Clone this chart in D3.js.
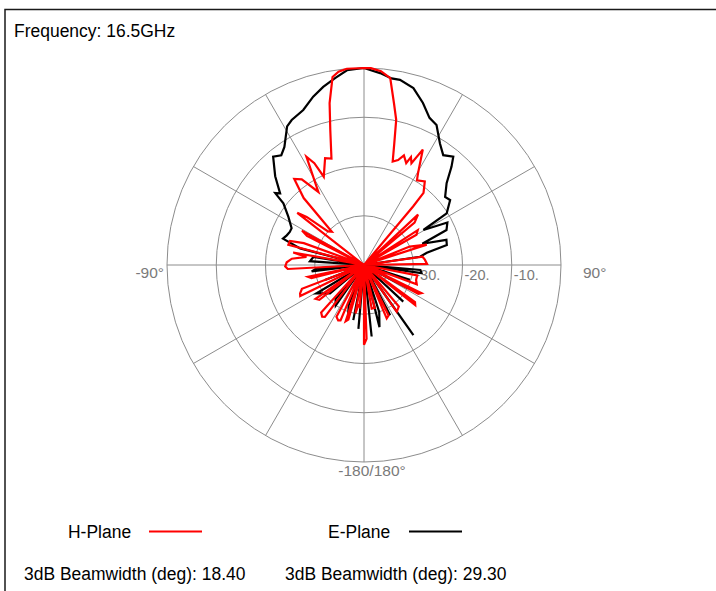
<!DOCTYPE html>
<html>
<head>
<meta charset="utf-8">
<script src="https://cdn.jsdelivr.net/npm/d3@7"></script>
<style>
  html, body { margin: 0; padding: 0; background: #fff; }
  svg { display: block; font-family: "Liberation Sans", Arial, sans-serif; }
</style>
</head>
<body>
<svg id="chart" width="716" height="591"></svg>
<script>
// Radiation pattern, 16.5 GHz. Angles in degrees (0 = boresight, clockwise), levels in dB.
const frequencyLabel = "Frequency: 16.5GHz";

const dbTicks = [-40, -30, -20, -10, 0];
const dbTickLabels = ["-40.", "-30.", "-20.", "-10."];
const spokeAngles = [0, 30, 60, 90, 120, 150, 180, 210, 240, 270, 300, 330];
const angleLabels = ["-90°", "90°", "-180/180°"];

// H-Plane (red)
const hPlaneDeg = [
  -180, -177, -174, -172, -170, -167, -164, -162, -160, -157, -155, -152, -148, -143, -141,
  -138, -133, -128, -125, -120, -116, -114, -111, -107, -104, -102, -99, -93, -91, -88, -85,
  -82, -80, -77, -75, -72, -70, -66, -63, -61, -57, -52, -50, -47, -44, -42, -39, -36, -32,
  -28, -26, -24.5, -20, -17, -14, -12, -9.5, -7.5, -5, 0, 2, 5, 8, 10.5, 12.5, 14, 15.5, 18,
  20, 22.5, 23.5, 25, 27, 30.5, 32, 36, 39.5, 40, 43, 47, 50, 54, 57, 60, 64, 68, 72, 76, 82,
  85, 89, 93, 99, 101, 106, 110, 114, 116, 118, 120, 126, 128, 131, 136, 140, 145, 150, 154,
  157, 160, 166, 170, 175, 178
];
const hPlaneDb = [
  -23.8, -40, -31.5, -31.8, -30, -40, -28.5, -28, -40, -27.8, -27.6, -28.1, -40, -26.8, -26.5,
  -27, -40, -28.5, -28, -40, -25.6, -25.8, -26.5, -40, -29, -28.4, -40, -24.5, -24, -24.3, -25.3,
  -28.2, -25.4, -40, -24.1, -24.2, -27, -40, -27, -25.6, -40, -22.8, -24.8, -30, -30.6, -21.7, -17.5, -18.5, -22.5,
  -15.1, -17, -20.3, -16.9, -17.4, -11.7, -6.4, -1.3, -0.4, 0, 0, 0, -0.5, -1.7, -6.6, -9.8, -14.6, -18.2, -17.6,
  -16.3, -17.6, -16.1, -17.2, -13.7, -18.4, -19.7, -19, -21, -24.5, -40, -25, -26.6, -40, -27, -27.7, -40, -30, -26.6, -40, -28,
  -27.6, -27.2, -40, -40, -29, -29, -28.6, -40, -27, -27.5, -40, -27.2, -26.8, -40, -40, -29, -28.4, -40, -28.6,
  -28.2, -40, -31, -31, -40, -25
];

// E-Plane (black)
const ePlaneDeg = [
  -180, -175, -172, -169, -166, -163, -159, -150, -145, -140, -134, -130, -125, -121, -116,
  -111, -104, -97, -94, -90, -86, -81, -78, -75.4, -72, -69, -66, -63, -57.5, -52.6, -51,
  -49.5, -45, -40, -37, -34, -29, -26.5, -21.4, -16.8, -12.9, -8.8, -5, 0, 4.8, 8.4, 11,
  15.6, 20, 24, 27.4, 32, 35.8, 39.5, 41.7, 45.3, 50, 53, 58, 59.5, 63, 67, 70, 73, 76.4,
  79, 81.6, 85, 92, 95, 98, 102, 108, 112, 118, 124, 133, 138, 144.8, 148, 152.5, 158, 162,
  166, 170, 173.9, 177
];
const ePlaneDb = [
  -40, -27, -40, -28.6, -40, -29, -31.3, -40, -30, -31, -40, -31, -30, -28.8, -40,
  -31.5, -40, -29.3, -30.4, -40, -29, -29.6, -40, -26.6, -22.7, -23.2, -23.5, -23.5, -21.8, -19.4, -16.8,
  -17.6, -14.5, -11.3, -12.1, -11.1, -7.8, -7.1, -6.2, -4.3, -2.9, -1.6, -0.3, 0, -0.9, -1.7, -1.7,
  -2.7, -5, -7.3, -8, -10.9, -12.5, -11.5, -13.3, -16.4, -18.5, -18.1, -20.2, -26, -21, -21.8, -27.4, -22.5, -22.7,
  -27, -28.5, -40, -40, -28.5, -28.2, -40, -30.2, -40, -30, -40, -29.1, -40, -22.6, -40, -28.5, -40, -30,
  -27, -40, -25.4, -40
];

const legendNames = ["H-Plane", "E-Plane"];
const legendColors = ["#ff0000", "#000000"];
const beamwidthLabels = ["3dB Beamwidth (deg): 18.40", "3dB Beamwidth (deg): 29.30"];

const svg = d3.select("#chart");
const cx = 364, cy = 265, R = 197;
const gridColor = "#8c8c8c";
const labelColor = "#7a7a7a";

// Black text is set slightly condensed
function blackText(x, y, str) {
  return svg.append("text")
    .attr("transform", `translate(${x},${y}) scale(0.92,1)`)
    .attr("font-size", 19).attr("fill", "#000")
    .text(str);
}

// Frame
svg.append("path")
  .attr("d", "M5,591 V9.5 H716")
  .attr("fill", "none")
  .attr("stroke", "#1a1a1a")
  .attr("stroke-width", 1.5);

blackText(14, 37, frequencyLabel);

const r = d3.scaleLinear().domain([-40, 0]).range([0, R]).clamp(true);
const toRad = d => d * Math.PI / 180;

const g = svg.append("g").attr("transform", `translate(${cx},${cy})`);

// Rings
g.selectAll("circle.ring")
  .data(dbTicks.filter(d => d > -40))
  .join("circle")
  .attr("class", "ring")
  .attr("r", d => r(d))
  .attr("fill", "none")
  .attr("stroke", gridColor)
  .attr("stroke-width", 1);

// Spokes
g.selectAll("line.spoke")
  .data(spokeAngles)
  .join("line")
  .attr("class", "spoke")
  .attr("x1", 0).attr("y1", 0)
  .attr("x2", a => R * Math.sin(toRad(a)))
  .attr("y2", a => -R * Math.cos(toRad(a)))
  .attr("stroke", gridColor)
  .attr("stroke-width", 1);

// Radial level labels along the 90° spoke
g.selectAll("text.dbLabel")
  .data(dbTicks.slice(0, 4))
  .join("text")
  .attr("class", "dbLabel")
  .attr("x", d => r(d) + 2)
  .attr("y", 15)
  .attr("font-size", 14.5)
  .attr("fill", labelColor)
  .text((d, i) => dbTickLabels[i]);

// Angle labels
g.append("text").attr("x", -R - 3).attr("y", 13).attr("text-anchor", "end")
  .attr("font-size", 15.5).attr("fill", labelColor).text(angleLabels[0]);
g.append("text").attr("x", R + 22).attr("y", 13).attr("text-anchor", "start")
  .attr("font-size", 15.5).attr("fill", labelColor).text(angleLabels[1]);
g.append("text").attr("x", 8).attr("y", R + 14).attr("text-anchor", "middle")
  .attr("font-size", 15.5).attr("fill", labelColor).text(angleLabels[2]);

// Pattern traces
const radial = d3.lineRadial()
  .angle(d => toRad(d[0]))
  .radius(d => r(d[1]))
  .curve(d3.curveLinearClosed);

const traces = [
  { deg: ePlaneDeg, db: ePlaneDb, color: legendColors[1] },
  { deg: hPlaneDeg, db: hPlaneDb, color: legendColors[0] }
];

traces.forEach(t => {
  g.append("path")
    .datum(t.deg.map((a, i) => [a, t.db[i]]))
    .attr("d", radial)
    .attr("fill", "none")
    .attr("stroke", t.color)
    .attr("stroke-width", 2.2)
    .attr("stroke-linejoin", "miter");
});

// Legend
const legendX = [68, 328];
const beamX = [24, 285];
legendNames.forEach((name, i) => {
  const x0 = legendX[i];
  blackText(x0, 538, name);
  svg.append("line")
    .attr("x1", x0 + 81).attr("x2", x0 + 134)
    .attr("y1", 531.5).attr("y2", 531.5)
    .attr("stroke", legendColors[i]).attr("stroke-width", 2);
  blackText(beamX[i], 580, beamwidthLabels[i]);
});
</script>
</body>
</html>
